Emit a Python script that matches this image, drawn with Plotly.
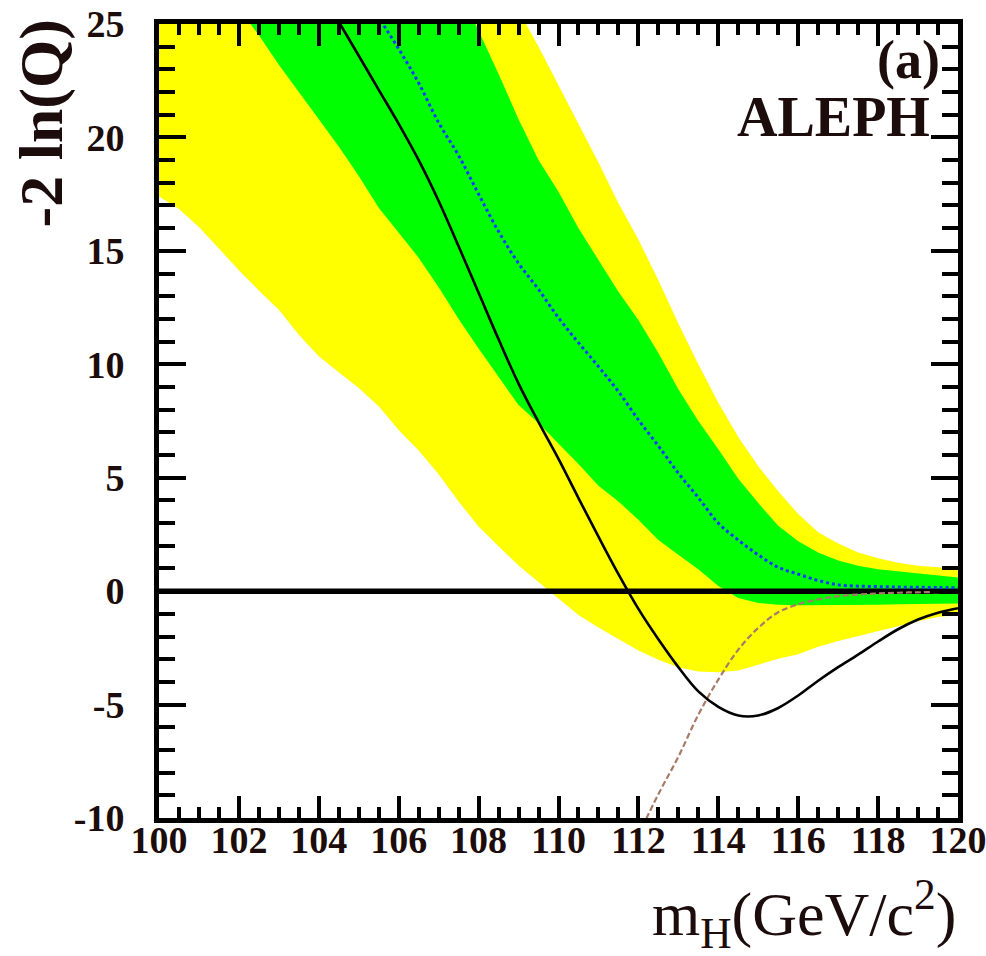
import plotly.graph_objects as go

# Higgs mass hypotheses (GeV/c^2) on which the bands are tabulated
MASS = [100.0, 100.5, 101.0, 101.5, 102.0, 102.5, 103.0, 103.5, 104.0, 104.5,
        105.0, 105.5, 106.0, 106.5, 107.0, 107.5, 108.0, 108.5, 109.0, 109.5,
        110.0, 110.5, 111.0, 111.5, 112.0, 112.5, 113.0, 113.5, 114.0, 114.5,
        115.0, 115.5, 116.0, 116.5, 117.0, 117.5, 118.0, 118.5, 119.0, 119.5,
        120.0]

# -2 ln(Q): +/-2 sigma band of the background-only expectation
BAND2_HI = [56.0, 54.5, 53.0, 51.2, 49.5, 47.8, 46.0, 44.2, 42.5, 40.8,
            39.0, 37.2, 35.5, 33.8, 32.0, 30.4, 28.8, 27.2, 25.6, 24.0,
            22.3, 20.6, 18.9, 17.1, 15.5, 13.7, 11.8, 10.0, 8.3, 6.8,
            5.5, 4.4, 3.4, 2.6, 2.1, 1.7, 1.45, 1.25, 1.12, 1.05,
            1.0]
BAND2_LO = [17.4, 16.85, 16.05, 15.1, 14.15, 13.25, 12.4, 11.3, 10.35, 9.65,
            8.95, 8.15, 7.1, 6.2, 5.15, 3.95, 2.85, 1.98, 1.13, 0.4,
            -0.33, -1.05, -1.6, -2.12, -2.62, -3.02, -3.36, -3.54, -3.57, -3.5,
            -3.25, -2.98, -2.78, -2.45, -2.2, -1.98, -1.77, -1.55, -1.33, -1.14,
            -1.05]

# -2 ln(Q): +/-1 sigma band of the background-only expectation
BAND1_HI = [52.0, 50.5, 49.0, 47.5, 46.0, 44.2, 42.5, 40.8, 39.0, 37.2,
            35.5, 33.8, 32.0, 30.2, 28.4, 26.6, 24.7, 22.8, 20.8, 19.0,
            17.6, 16.0, 14.6, 13.2, 11.95, 10.5, 8.9, 7.5, 6.25, 4.95,
            3.88, 2.88, 2.2, 1.7, 1.35, 1.12, 0.97, 0.87, 0.78, 0.68,
            0.6]
BAND1_LO = [30.5, 29.3, 28.1, 26.9, 25.7, 24.5, 23.2, 22.0, 20.8, 19.6,
            18.3, 16.9, 15.8, 14.7, 13.4, 12.0, 10.7, 9.45, 8.2, 7.4,
            6.5, 5.6, 4.65, 3.95, 3.15, 2.25, 1.6, 0.97, 0.23, -0.3,
            -0.52, -0.6, -0.62, -0.62, -0.62, -0.61, -0.6, -0.58, -0.57, -0.56,
            -0.55]

# Median expectation, background only
EXP_B = [41.8, 40.3, 38.8, 37.3, 35.8, 34.3, 32.8, 31.3, 29.8, 28.3,
         26.8, 25.3, 23.9, 22.4, 20.65, 19.2, 17.5, 15.85, 14.45, 13.3,
         12.05, 10.95, 9.9, 8.8, 7.55, 6.4, 5.2, 4.12, 3.0, 2.25,
         1.6, 1.05, 0.75, 0.47, 0.28, 0.22, 0.2, 0.18, 0.17, 0.16,
         0.15]

# Median expectation, signal + background
MASS_SB = [112.0, 112.5, 113.0, 113.5, 114.0, 114.5, 115.0, 115.5, 116.0,
           116.5, 117.0, 117.5, 118.0, 118.5, 119.0, 119.5, 120.0]
EXP_SB = [-10.75, -8.95, -7.3, -5.45, -3.9, -2.58, -1.62, -0.93, -0.58,
          -0.36, -0.22, -0.15, -0.1, -0.07, -0.05, -0.04, -0.03]

# Observed -2 ln(Q)
MASS_OBS = [104.0, 104.5, 105.0, 105.5, 106.0, 106.5, 107.0, 107.5, 108.0,
            108.5, 109.0, 109.5, 110.0, 110.5, 111.0, 111.5, 112.0, 112.5,
            113.0, 113.5, 114.0, 114.5, 115.0, 115.5, 116.0, 116.5, 117.0,
            117.5, 118.0, 118.5, 119.0, 119.5, 120.0]
OBSERVED = [26.6, 25.1, 23.6, 22.1, 20.6, 19.0, 17.2, 15.2, 13.15,
            11.1, 9.15, 7.45, 5.83, 4.1, 2.4, 0.75, -0.78, -2.12,
            -3.35, -4.42, -5.1, -5.48, -5.48, -5.15, -4.6, -3.95, -3.35,
            -2.8, -2.22, -1.68, -1.25, -0.95, -0.75]

# Axis ticks
X_TICKS = [100, 102, 104, 106, 108, 110, 112, 114, 116, 118, 120]
Y_TICKS = [-10, -5, 0, 5, 10, 15, 20, 25]
Y_TICK_TEXT = ["-10", "-5", "0", "5", "10", "15", "20", "25"]

TEXT_COLOR = "#1c0c0c"
SERIF = "Liberation Serif"

fig = go.Figure()

# 2 sigma band (yellow)
fig.add_trace(go.Scatter(x=MASS, y=BAND2_HI, mode="lines",
                         line=dict(width=0, color="#ffff00"), hoverinfo="skip"))
fig.add_trace(go.Scatter(x=MASS, y=BAND2_LO, mode="lines", fill="tonexty",
                         fillcolor="#ffff00", line=dict(width=0, color="#ffff00"),
                         hoverinfo="skip"))
# 1 sigma band (green)
fig.add_trace(go.Scatter(x=MASS, y=BAND1_HI, mode="lines",
                         line=dict(width=0, color="#00ff00"), hoverinfo="skip"))
fig.add_trace(go.Scatter(x=MASS, y=BAND1_LO, mode="lines", fill="tonexty",
                         fillcolor="#00ff00", line=dict(width=0, color="#00ff00"),
                         hoverinfo="skip"))

# Horizontal reference at -2 ln(Q) = 0
fig.add_trace(go.Scatter(x=[MASS[0], MASS[-1]], y=[0, 0], mode="lines",
                         line=dict(width=5.5, color="black"), hoverinfo="skip"))

# Expected curves and observation
fig.add_trace(go.Scatter(x=MASS, y=EXP_B, mode="lines",
                         line=dict(width=3, color="#0a3cff", dash="3px,3px"),
                         line_shape="spline"))
fig.add_trace(go.Scatter(x=MASS_SB, y=EXP_SB, mode="lines",
                         line=dict(width=2.2, color="#a87a68", dash="6px,3px"),
                         line_shape="spline"))
fig.add_trace(go.Scatter(x=MASS_OBS, y=OBSERVED, mode="lines",
                         line=dict(width=2.6, color="black"),
                         line_shape="spline"))

axis_common = dict(
    showline=True, linewidth=5, linecolor="black", mirror="ticks",
    ticks="inside", tickwidth=4, tickcolor="black",
    showgrid=False, zeroline=False, ticklabeloverflow="allow",
    automargin=False,
    tickfont=dict(family=SERIF, size=38, color=TEXT_COLOR, weight="bold"),
)

fig.update_xaxes(range=[100, 120], tickvals=X_TICKS, ticklen=22,
                 minor=dict(dtick=0.5, tick0=100, ticks="inside", ticklen=11,
                            tickwidth=4, tickcolor="black", showgrid=False),
                 ticklabelstandoff=-16, **axis_common)
fig.update_yaxes(range=[-10, 25], tickvals=Y_TICKS, ticktext=Y_TICK_TEXT,
                 ticklen=27,
                 minor=dict(dtick=1, tick0=0, ticks="inside", ticklen=16,
                            tickwidth=4, tickcolor="black", showgrid=False),
                 ticklabelstandoff=22, **axis_common)

fig.add_annotation(text="-2 ln(Q)", textangle=-90, xref="paper", yref="paper",
                   x=0, y=1, xanchor="right", yanchor="top", xshift=-82, yshift=6,
                   showarrow=False,
                   font=dict(family=SERIF, size=62, color=TEXT_COLOR, weight="bold"))
fig.add_annotation(text="m<sub>H</sub>(GeV/c<sup>2</sup>)", xref="paper", yref="paper",
                   x=1, y=0, xanchor="right", yanchor="top", xshift=0, yshift=-50,
                   showarrow=False,
                   font=dict(family=SERIF, size=62, color=TEXT_COLOR))
fig.add_annotation(text="(a)", xref="paper", yref="paper",
                   x=1, y=1, xanchor="right", yanchor="top", xshift=-16, yshift=-4,
                   showarrow=False,
                   font=dict(family=SERIF, size=54, color=TEXT_COLOR, weight="bold"))
fig.add_annotation(text="ALEPH", xref="paper", yref="paper",
                   x=1, y=1, xanchor="right", yanchor="top", xshift=-26, yshift=-60,
                   showarrow=False,
                   font=dict(family=SERIF, size=56, color=TEXT_COLOR, weight="bold"))

fig.update_layout(
    width=986, height=956,
    margin=dict(l=159, r=28, t=24, b=138),
    paper_bgcolor="white", plot_bgcolor="white",
    showlegend=False,
)

fig.write_html("out.html")
